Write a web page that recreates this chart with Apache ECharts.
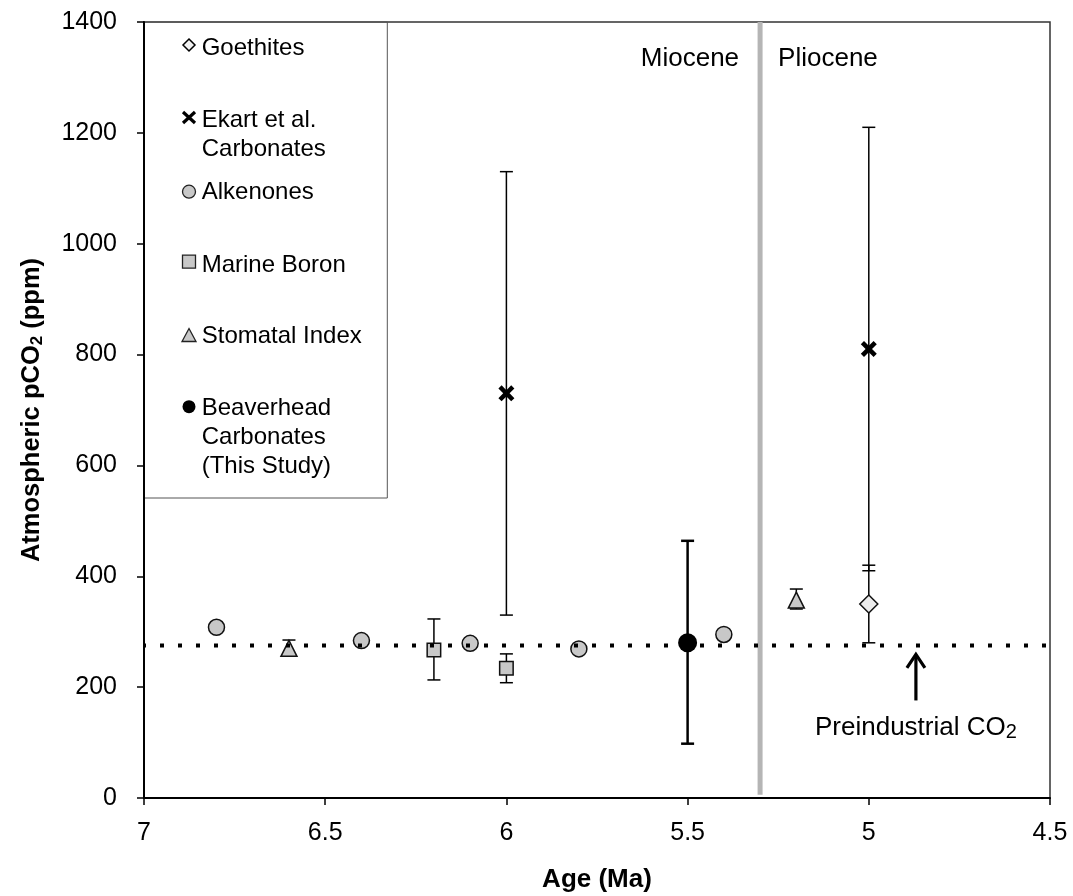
<!DOCTYPE html>
<html><head><meta charset="utf-8">
<script src="https://cdn.jsdelivr.net/npm/echarts@6/dist/echarts.min.js"></script>
<style>html,body{margin:0;padding:0;background:#fff}#c{width:1073px;height:896px}</style>
</head><body><div id="c"></div>
<script>
// ---- data ----
const xTickLabels = ['7', '6.5', '6', '5.5', '5', '4.5'];
const yTickLabels = ['0', '200', '400', '600', '800', '1000', '1200', '1400'];

const alkenoneAge = [6.8, 6.4, 6.1, 5.8, 5.4];
const alkenoneCO2 = [308, 284, 279, 269, 295];

const boronAge = [6.2, 6.0];
const boronCO2 = [267, 234];
const boronLow = [213, 208];
const boronHigh = [323, 260];

const stomatalAge = [6.6, 5.2];
const stomatalCO2 = [270, 357];
const stomatalLow = [256, 341];
const stomatalHigh = [285, 377];

const ekartAge = [6.0, 5.0];
const ekartCO2 = [730, 810];
const ekartLow = [330, 410];
const ekartHigh = [1130, 1210];

const goethiteAge = [5.0];
const goethiteCO2 = [350];
const goethiteLow = [280];
const goethiteHigh = [420];

const beaverheadAge = [5.5];
const beaverheadCO2 = [280];
const beaverheadLow = [98];
const beaverheadHigh = [464];

const preindustrialCO2 = 275;
const preindustrialAges = [7, 4.5];
const epochBoundaryAge = 5.3;
const epochBoundaryCO2 = [1400, 6];
const arrowAge = [4.87];
const arrowFrom = [176];
const arrowTo = [262];

// ---- chart ----
const FONT = '"Liberation Sans", Arial, Helvetica, sans-serif';
const chart = echarts.init(document.getElementById('c'), null, {renderer: 'canvas'});

const pts = (a, b) => a.map((v, i) => [v, b[i]]);

function errSeries(name, ages, lows, highs, lw) {
  return {
    name: name, type: 'custom', z: 3, silent: true,
    data: ages.map((a, i) => [a, lows[i], highs[i]]),
    encode: {x: 0, y: [1, 2]},
    renderItem: function (params, api) {
      const lo = api.coord([api.value(0), api.value(1)]);
      const hi = api.coord([api.value(0), api.value(2)]);
      const h = 6.5;
      const st = {stroke: '#000', lineWidth: lw, fill: null};
      return {type: 'group', children: [
        {type: 'line', shape: {x1: lo[0], y1: lo[1], x2: hi[0], y2: hi[1]}, style: st},
        {type: 'line', shape: {x1: lo[0] - h, y1: lo[1], x2: lo[0] + h, y2: lo[1]}, style: st},
        {type: 'line', shape: {x1: hi[0] - h, y1: hi[1], x2: hi[0] + h, y2: hi[1]}, style: st}
      ]};
    }
  };
}

const grayFill = '#c8c8c8';
const edge = '#111';
const XPATH = 'path://M4,0 L10,6 L16,0 L20,4 L14,10 L20,16 L16,20 L10,14 L4,20 L0,16 L6,10 L0,4 Z';
const markerStyle = {color: grayFill, borderColor: edge, borderWidth: 1.5, opacity: 1};

const option = {
  backgroundColor: '#fff',
  animation: false,
  grid: {left: 144, right: 23, top: 22, bottom: 98, show: true, borderColor: '#333', borderWidth: 1.5,
         backgroundColor: 'transparent', outerBoundsMode: 'none', containLabel: false},
  xAxis: {
    type: 'value', min: 4.5, max: 7, interval: 0.5, inverse: true,
    name: 'Age (Ma)', nameLocation: 'middle', nameGap: 69,
    nameTextStyle: {fontFamily: FONT, fontSize: 26, fontWeight: 'bold', color: '#000'},
    axisLine: {show: true, onZero: false, lineStyle: {color: '#000', width: 2}},
    axisTick: {show: true, inside: false, length: 7, lineStyle: {color: '#000', width: 1.5}},
    axisLabel: {margin: 23, fontFamily: FONT, fontSize: 25, color: '#000',
      formatter: v => xTickLabels.find(t => Math.abs(parseFloat(t) - v) < 1e-6) || ''},
    splitLine: {show: false}
  },
  yAxis: {
    type: 'value', min: 0, max: 1400, interval: 200,
    name: '{b|Atmospheric pCO}{s|2}{b| (ppm)}', nameLocation: 'middle', nameGap: 98, nameRotate: 90,
    nameTextStyle: {rich: {
      b: {fontFamily: FONT, fontSize: 25.5, fontWeight: 'bold', color: '#000', lineHeight: 28},
      s: {fontFamily: FONT, fontSize: 17, fontWeight: 'bold', color: '#000', lineHeight: 15, verticalAlign: 'bottom'}
    }},
    axisLine: {show: true, onZero: false, lineStyle: {color: '#000', width: 2}},
    axisTick: {show: true, inside: false, length: 7, lineStyle: {color: '#000', width: 1.5}},
    axisLabel: {margin: 27, fontFamily: FONT, fontSize: 25, color: '#000',
      formatter: v => yTickLabels.find(t => Math.abs(parseFloat(t) - v) < 1e-6) || ''},
    splitLine: {show: false}
  },
  series: [
    {name: 'Miocene/Pliocene boundary', type: 'line', z: 1, silent: true, symbol: 'none',
     data: epochBoundaryCO2.map(c => [epochBoundaryAge, c]),
     lineStyle: {color: '#b5b5b5', width: 5}},
    errSeries('Ekart err', ekartAge, ekartLow, ekartHigh, 1.5),
    errSeries('Goethite err', goethiteAge, goethiteLow, goethiteHigh, 1.5),
    errSeries('Boron err', boronAge, boronLow, boronHigh, 1.5),
    errSeries('Stomatal err', stomatalAge, stomatalLow, stomatalHigh, 1.5),
    errSeries('Beaverhead err', beaverheadAge, beaverheadLow, beaverheadHigh, 2.5),
    {name: 'Goethites', type: 'scatter', z: 5, symbol: 'diamond', symbolSize: [18, 18],
     data: pts(goethiteAge, goethiteCO2),
     itemStyle: Object.assign({}, markerStyle, {color: '#ececec'})},
    {name: 'Ekart et al. Carbonates', type: 'scatter', z: 5, symbol: XPATH, symbolSize: [16, 16],
     data: pts(ekartAge, ekartCO2), itemStyle: {color: '#000', opacity: 1, borderWidth: 0}},
    {name: 'Alkenones', type: 'scatter', z: 5, symbol: 'circle', symbolSize: 16,
     data: pts(alkenoneAge, alkenoneCO2), itemStyle: markerStyle},
    {name: 'Marine Boron', type: 'scatter', z: 5, symbol: 'rect', symbolSize: [13.5, 13.5],
     data: pts(boronAge, boronCO2), itemStyle: markerStyle},
    {name: 'Stomatal Index', type: 'scatter', z: 5, symbol: 'triangle', symbolSize: [16, 16],
     data: pts(stomatalAge, stomatalCO2), itemStyle: markerStyle},
    {name: 'Beaverhead Carbonates', type: 'scatter', z: 5, symbol: 'circle', symbolSize: 19,
     data: pts(beaverheadAge, beaverheadCO2), itemStyle: {color: '#000', opacity: 1}},
    {name: 'Preindustrial', type: 'line', z: 8, silent: true, symbol: 'none',
     data: preindustrialAges.map(a => [a, preindustrialCO2]),
     lineStyle: {color: '#000', width: 4, type: [4, 14], dashOffset: 2, cap: 'butt'}},
    {name: 'Arrow', type: 'custom', z: 6, silent: true,
     data: arrowAge.map((a, i) => [a, arrowFrom[i], arrowTo[i]]),
     encode: {x: 0, y: [1, 2]},
     renderItem: function (params, api) {
       const a = api.coord([api.value(0), api.value(1)]);
       const b = api.coord([api.value(0), api.value(2)]);
       const st = {stroke: '#000', lineWidth: 3.2, fill: null};
       return {type: 'group', children: [
         {type: 'line', shape: {x1: a[0], y1: a[1], x2: b[0], y2: b[1] + 2}, style: st},
         {type: 'polyline', shape: {points: [[b[0] - 9, b[1] + 15], [b[0], b[1] + 1.5], [b[0] + 9, b[1] + 15]]}, style: st}
       ]};
     }}
  ]
};
chart.setOption(option);

// ---- annotations & legend ----
const bx = chart.convertToPixel({xAxisIndex: 0}, epochBoundaryAge);
const epochY = chart.convertToPixel({yAxisIndex: 0}, 1334);
const ax = chart.convertToPixel({xAxisIndex: 0}, arrowAge[0]);

const legendItems = [
  {label: 'Goethites', my: 45, ty: 48.5},
  {label: 'Ekart et al.\nCarbonates', my: 117.5, ty: 135},
  {label: 'Alkenones', my: 191.7, ty: 192.5},
  {label: 'Marine Boron', my: 261.7, ty: 265},
  {label: 'Stomatal Index', my: 335, ty: 336.7},
  {label: 'Beaverhead\nCarbonates\n(This Study)', my: 406.7, ty: 437}
];
const mx = 189;
const lgTextStyle = {fontFamily: FONT, fontSize: 24, fill: '#000', lineHeight: 29, verticalAlign: 'middle', align: 'left'};
const lm = legendItems.map(d => d.my);
const graphics = [
  {type: 'polyline', z: 10, shape: {points: [[145, 22], [387.3, 22], [387.3, 498], [145, 498]]}, style: {fill: null, stroke: '#555', lineWidth: 1}},
  {type: 'polygon', z: 11, shape: {points: [[mx, lm[0] - 6], [mx + 6, lm[0]], [mx, lm[0] + 6], [mx - 6, lm[0]]]}, style: {fill: '#f2f2f2', stroke: '#000', lineWidth: 1.5}},
  {type: 'line', z: 11, shape: {x1: mx - 6, y1: lm[1] - 5.5, x2: mx + 6, y2: lm[1] + 5.5}, style: {stroke: '#000', lineWidth: 3.2}},
  {type: 'line', z: 11, shape: {x1: mx - 6, y1: lm[1] + 5.5, x2: mx + 6, y2: lm[1] - 5.5}, style: {stroke: '#000', lineWidth: 3.2}},
  {type: 'circle', z: 11, shape: {cx: mx, cy: lm[2], r: 6.5}, style: {fill: grayFill, stroke: '#222', lineWidth: 1.3}},
  {type: 'rect', z: 11, shape: {x: mx - 6.5, y: lm[3] - 6.5, width: 13, height: 13}, style: {fill: grayFill, stroke: '#222', lineWidth: 1.3}},
  {type: 'polygon', z: 11, shape: {points: [[mx, lm[4] - 6.5], [mx + 7, lm[4] + 6.5], [mx - 7, lm[4] + 6.5]]}, style: {fill: grayFill, stroke: '#222', lineWidth: 1.3}},
  {type: 'circle', z: 11, shape: {cx: mx, cy: lm[5], r: 6.5}, style: {fill: '#000'}},
  {type: 'text', z: 11, x: bx - 21, y: epochY, style: {text: 'Miocene', fontFamily: FONT, fontSize: 26, fill: '#000', align: 'right', verticalAlign: 'middle'}},
  {type: 'text', z: 11, x: bx + 18, y: epochY, style: {text: 'Pliocene', fontFamily: FONT, fontSize: 26, fill: '#000', align: 'left', verticalAlign: 'middle'}},
  {type: 'text', z: 11, x: ax, y: 728, style: {
    text: '{n|Preindustrial CO}{s|2}', align: 'center', verticalAlign: 'middle',
    rich: {
      n: {fontFamily: FONT, fontSize: 26, fill: '#000', lineHeight: 28},
      s: {fontFamily: FONT, fontSize: 20, fill: '#000', lineHeight: 14, verticalAlign: 'bottom'}
    }}}
];
legendItems.forEach(d => {
  graphics.push({type: 'text', z: 11, x: 201.7, y: d.ty, style: Object.assign({text: d.label}, lgTextStyle)});
});
chart.setOption({graphic: graphics});
</script>
</body></html>
